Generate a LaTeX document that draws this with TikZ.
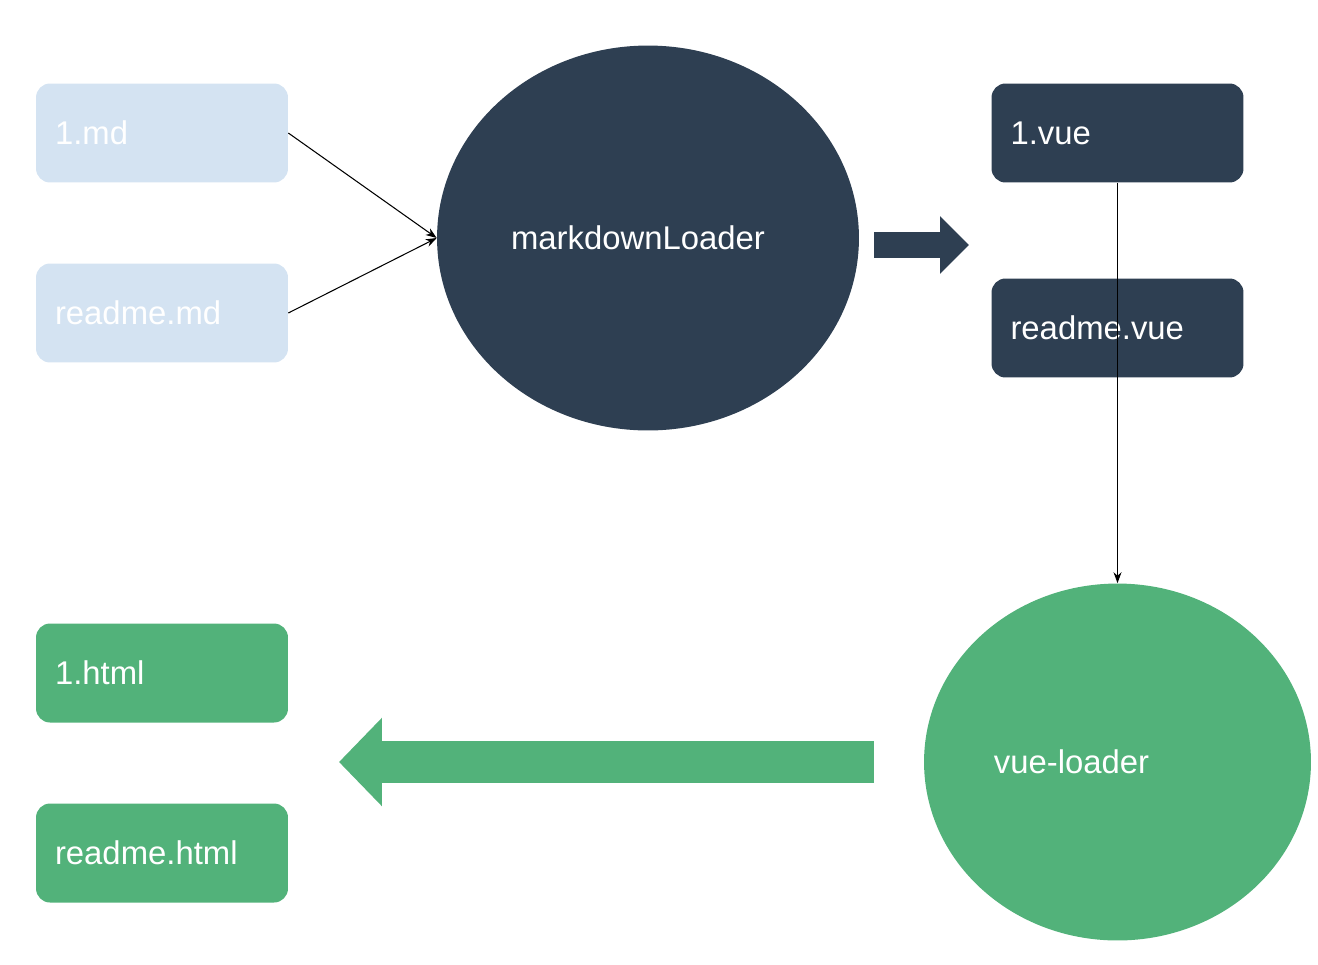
\documentclass[tikz,border=0pt]{standalone}
\usepackage{fontspec}
\setmainfont{Liberation Sans}
\usetikzlibrary{shapes.geometric,arrows.meta}
\definecolor{mdblue}{HTML}{D4E3F2}
\definecolor{vuedark}{HTML}{2E3F52}
\definecolor{vuegreen}{HTML}{52B27A}
\begin{document}
\begin{tikzpicture}
  [x=0.02cm,y=-0.02cm,
   font=\fontsize{18.7}{22}\selectfont,
   file/.style=
     {rounded corners=0.28cm,minimum width=5.04cm,minimum height=1.98cm,
      text width=4.28cm,inner xsep=0.38cm,align=left,text=white},
   mdbox/.style={file,fill=mdblue},
   vuebox/.style={file,fill=vuedark},
   htmlbox/.style={file,fill=vuegreen},
   loader/.style={ellipse,inner sep=0pt,text=white},
   thin arrow/.style={-{Stealth[length=2.2mm,width=1.6mm]},line width=0.6pt},
   fat arrow/.style={line width=#1}
  ]
  \useasboundingbox (0,0) rectangle (1318,964);
  % sources
  \node[mdbox] (md1) at (162,133) {1.md};
  \node[mdbox] (mdreadme) at (162,313) {readme.md};
  % first loader
  \node[loader,fill=vuedark,minimum width=8.44cm,minimum height=7.7cm]
    (mdloader) at (648,238) {markdownLoader\rule{0.4cm}{0pt}};
  \draw[thin arrow] (md1.east) -- (mdloader.west);
  \draw[thin arrow] (mdreadme.east) -- (mdloader.west);
  % vue files
  \node[vuebox] (vue1) at (1117.5,133) {1.vue};
  \node[vuebox] (vuereadme) at (1117.5,328) {readme.vue};
  \coordinate (darkfrom) at (874,245);
  \coordinate (darkto) at (969,245);
  \draw[fat arrow=0.52cm,vuedark,
        -{Triangle[length=0.58cm,width=1.12cm]}] (darkfrom) -- (darkto);
  % second loader
  \node[loader,fill=vuegreen,minimum width=7.74cm,minimum height=7.14cm]
    (vueloader) at (1117.5,762) {vue-loader\rule{1.84cm}{0pt}};
  \draw[thin arrow] (vue1.south) -- (vueloader.north);
  % output
  \node[htmlbox] (html1) at (162,673) {1.html};
  \node[htmlbox] (htmlreadme) at (162,853) {readme.html};
  \coordinate (greenfrom) at (874,762);
  \coordinate (greento) at (339,762);
  \draw[fat arrow=0.84cm,vuegreen,
        -{Triangle[length=0.86cm,width=1.72cm]}] (greenfrom) -- (greento);
\end{tikzpicture}
\end{document}
